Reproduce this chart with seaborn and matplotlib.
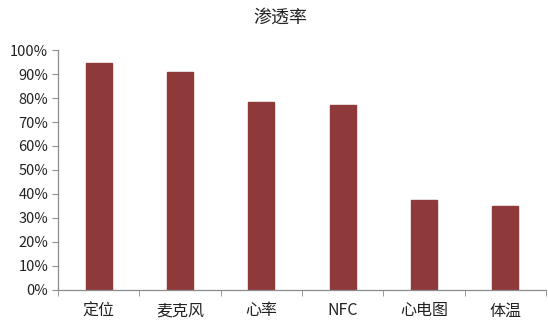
import matplotlib
matplotlib.use("Agg")
import matplotlib.pyplot as plt
import seaborn as sns
import pandas as pd
import numpy as np
from matplotlib.ticker import PercentFormatter, FixedLocator

categories = ["定位", "麦克风", "心率", "NFC", "心电图", "体温"]
values = [94.5, 91.0, 78.3, 77.0, 37.5, 35.0]
y_ticks = [0, 10, 20, 30, 40, 50, 60, 70, 80, 90, 100]

sns.set_style("white")
plt.rcParams['font.family'] = ['Noto Sans CJK SC', 'DejaVu Sans']

df = pd.DataFrame({"cat": categories, "val": values})

fig = plt.figure(figsize=(5.48, 3.21), dpi=100)
ax = fig.add_axes([0.106, 0.097, 0.89, 0.747])
sns.barplot(data=df, x="cat", y="val", color="#8E3A3A", width=0.32,
            saturation=1, ax=ax, edgecolor="#8E3A3A")
ax.set_xlim(-0.5, len(categories) - 0.5)
ax.set_ylim(0, 100)
ax.set_yticks(y_ticks)
ax.yaxis.set_major_formatter(PercentFormatter(decimals=0))
ax.set_xlabel("")
ax.set_ylabel("")
fig.text(0.512, 0.945, "渗透率", fontsize=13, color="#222222", ha="center", va="center")

for s in ["top", "right"]:
    ax.spines[s].set_visible(False)
for s in ["left", "bottom"]:
    ax.spines[s].set_color("#8C8C8C")
    ax.spines[s].set_linewidth(0.9)

ax.tick_params(axis="y", which="major", direction="out", length=4, color="#8C8C8C",
               labelsize=10.5, pad=3, left=True)
ax.tick_params(axis="x", which="major", length=0, labelsize=11.5, pad=9)
ax.xaxis.set_minor_locator(FixedLocator(np.arange(-0.5, len(categories), 1.0)))
ax.tick_params(axis="x", which="minor", direction="out", length=4, color="#8C8C8C",
               bottom=True)
for lab in ax.get_xticklabels() + ax.get_yticklabels():
    lab.set_color("#222222")

fig.savefig("out.png", dpi=100)
